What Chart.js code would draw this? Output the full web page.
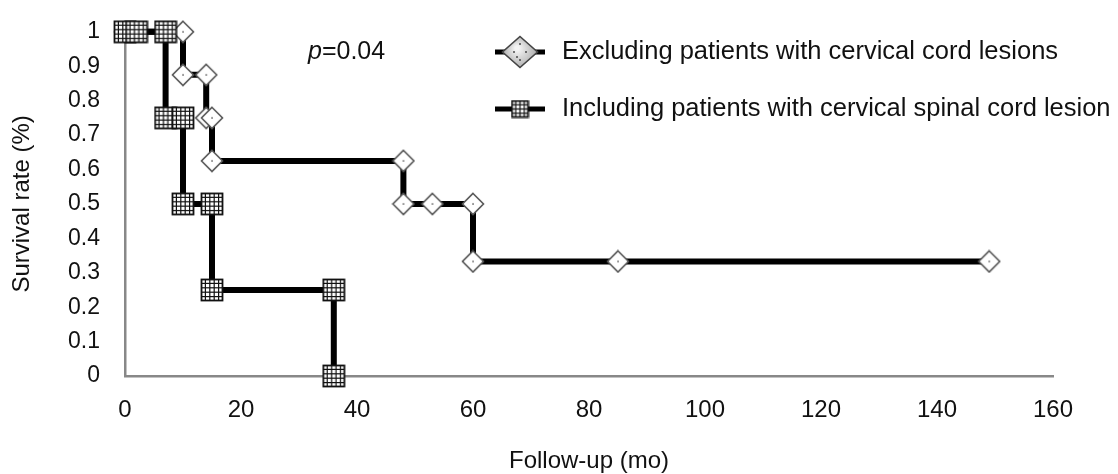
<!DOCTYPE html>
<html>
<head>
<meta charset="utf-8">
<script src="https://cdn.jsdelivr.net/npm/chart.js@4/dist/chart.umd.min.js"></script>
<style>
  html, body { margin: 0; padding: 0; background: #fff; }
  canvas { display: block; }
</style>
</head>
<body>
<canvas id="km" width="1118" height="474"></canvas>
<script>
// Kaplan-Meier steps (months, survival)
const excludingMonths = [0, 10, 10, 14, 14, 15, 15, 48, 48, 53, 60, 60, 85, 149];
const excludingSurvival = [1, 1, 0.875, 0.875, 0.75, 0.75, 0.625, 0.625, 0.5, 0.5, 0.5, 0.333, 0.333, 0.333];
const includingMonths = [0, 2, 7, 7, 10, 10, 15, 15, 36, 36];
const includingSurvival = [1, 1, 1, 0.75, 0.75, 0.5, 0.5, 0.25, 0.25, 0];
const seriesNames = ['Excluding patients with cervical cord lesions', 'Including patients with cervical spinal cord lesion'];
const yTickLabels = ['0', '0.1', '0.2', '0.3', '0.4', '0.5', '0.6', '0.7', '0.8', '0.9', '1'];
const pValueText = '=0.04';

const FONT = '"Liberation Sans", Arial, sans-serif';

// marker images
function squareMarker(size, cells) {
  const c = document.createElement('canvas');
  c.width = size + 2; c.height = size + 2;
  const g = c.getContext('2d');
  g.fillStyle = '#fff';
  g.fillRect(1, 1, size, size);
  g.strokeStyle = '#111';
  g.lineWidth = 1.2;
  const step = size / cells;
  for (let i = 1; i < cells; i++) {
    const p = 1 + i * step;
    g.beginPath(); g.moveTo(p, 1); g.lineTo(p, size + 1); g.stroke();
    g.beginPath(); g.moveTo(1, p); g.lineTo(size + 1, p); g.stroke();
  }
  g.lineWidth = 1.8;
  g.strokeRect(1.5, 1.5, size - 1, size - 1);
  return c;
}

function diamondMarker() {
  const c = document.createElement('canvas');
  c.width = 24; c.height = 24;
  const g = c.getContext('2d');
  g.beginPath();
  g.moveTo(12, 1.5); g.lineTo(22.5, 12); g.lineTo(12, 22.5); g.lineTo(1.5, 12); g.closePath();
  g.fillStyle = '#fff';
  g.fill();
  g.strokeStyle = '#555';
  g.lineWidth = 1.6;
  g.stroke();
  g.fillStyle = '#222';
  g.fillRect(11.4, 11.4, 1.3, 1.3);
  return c;
}

function legendDiamond() {
  const c = document.createElement('canvas');
  c.width = 38; c.height = 34;
  const g = c.getContext('2d');
  g.beginPath();
  g.moveTo(19, 1.5); g.lineTo(36.5, 17); g.lineTo(19, 32.5); g.lineTo(1.5, 17); g.closePath();
  const grad = g.createRadialGradient(16, 13, 2, 19, 17, 18);
  grad.addColorStop(0, '#f4f4f4');
  grad.addColorStop(1, '#a8a8a8');
  g.fillStyle = grad;
  g.fill();
  g.strokeStyle = '#444';
  g.lineWidth = 1.6;
  g.stroke();
  g.fillStyle = '#333';
  [[19, 9], [25, 17], [13, 17], [19, 25], [16, 22]].forEach(p => g.fillRect(p[0] - 0.8, p[1] - 0.8, 1.6, 1.6));
  return c;
}

const sq = squareMarker(22, 5);
const dm = diamondMarker();
const legendSq = squareMarker(17, 4);
const legendDm = legendDiamond();

const toPoints = (xs, ys) => xs.map((x, i) => ({ x: x, y: ys[i] }));

const overlay = {
  id: 'overlay',
  afterDraw(chart) {
    const ctx = chart.ctx;
    ctx.save();
    // p value
    ctx.fillStyle = '#111';
    ctx.textBaseline = 'middle';
    ctx.font = 'italic 25px ' + FONT;
    ctx.fillText('p', 308, 52);
    const pw = ctx.measureText('p').width;
    ctx.font = '25px ' + FONT;
    ctx.fillText(pValueText, 308 + pw, 52);

    // legend
    const rows = [[legendDm, 52], [legendSq, 109]];
    rows.forEach((r, i) => {
      ctx.strokeStyle = '#000';
      ctx.lineWidth = 5;
      ctx.beginPath(); ctx.moveTo(495, r[1]); ctx.lineTo(545, r[1]); ctx.stroke();
      ctx.drawImage(r[0], 520 - r[0].width / 2, r[1] - r[0].height / 2);
      ctx.fillStyle = '#111';
      ctx.font = '25.5px ' + FONT;
      ctx.fillText(seriesNames[i], 562, r[1]);
    });
    ctx.restore();
  }
};

new Chart(document.getElementById('km'), {
  type: 'scatter',
  data: {
    datasets: [
      {
        label: seriesNames[1],
        data: toPoints(includingMonths, includingSurvival),
        showLine: true,
        borderColor: '#000',
        borderWidth: 6,
        tension: 0,
        pointStyle: sq,
        order: 0
      },
      {
        label: seriesNames[0],
        data: toPoints(excludingMonths, excludingSurvival),
        showLine: true,
        borderColor: '#000',
        borderWidth: 6,
        tension: 0,
        pointStyle: dm,
        order: 1
      }
    ]
  },
  options: {
    responsive: false,
    animation: false,
    clip: false,
    layout: { padding: { top: 23, right: 65, left: 0, bottom: 0 } },
    plugins: {
      legend: { display: false },
      tooltip: { enabled: false }
    },
    scales: {
      x: {
        type: 'linear',
        min: 0, max: 160,
        ticks: { stepSize: 20, color: '#111', font: { family: FONT, size: 24 }, padding: 13 },
        grid: { display: false, drawTicks: true, tickLength: 7, tickColor: '#888', tickWidth: 2 },
        border: { color: '#888', width: 2.5 },
        title: { display: true, text: 'Follow-up (mo)', color: '#111', font: { family: FONT, size: 24, lineHeight: 1.0 }, padding: { top: 0, bottom: 1 } },
        afterFit(s) { s.height = 98; }
      },
      y: {
        min: 0, max: 1,
        ticks: {
          stepSize: 0.1, color: '#111', font: { family: FONT, size: 23 }, padding: 18,
          callback: (v) => yTickLabels[Math.round(v * 10)]
        },
        grid: { display: false, drawTicks: true, tickLength: 7, tickColor: '#888', tickWidth: 2 },
        border: { color: '#888', width: 2.5 },
        title: { display: true, text: 'Survival rate (%)', color: '#111', font: { family: FONT, size: 24 }, padding: { top: 8, bottom: 0 } },
        afterFit(s) { s.width = 125; }
      }
    }
  },
  plugins: [overlay]
});
</script>
</body>
</html>
